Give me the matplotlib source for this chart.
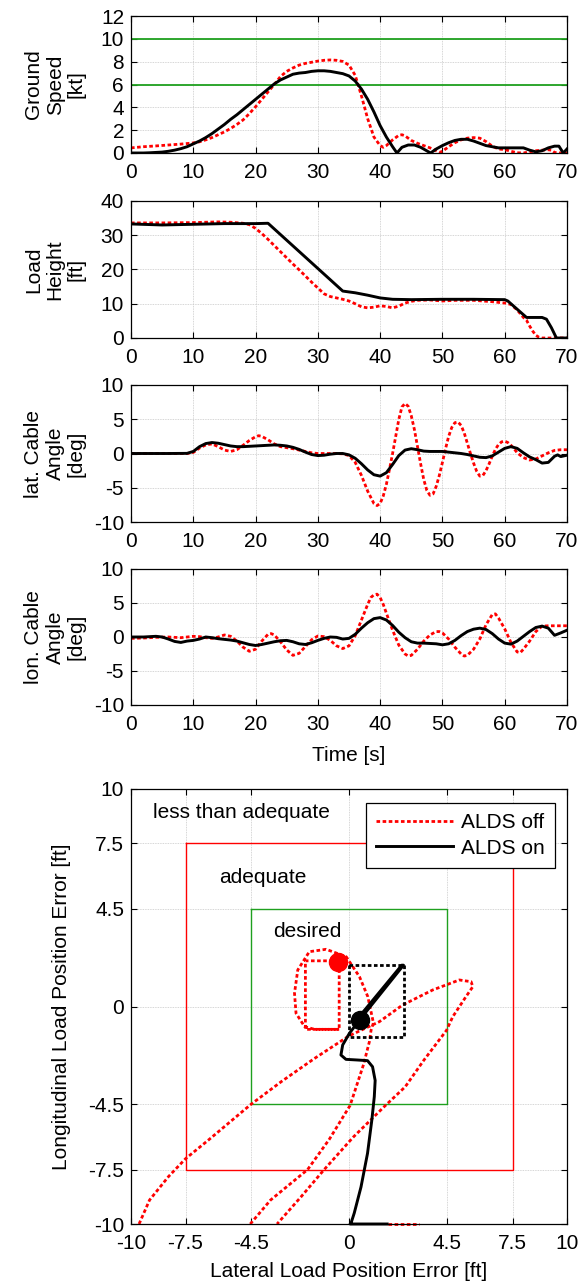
import matplotlib
matplotlib.use("Agg")
import matplotlib.pyplot as plt
import numpy as np

plt.rcParams['font.family'] = ['Liberation Sans', 'DejaVu Sans']
plt.rcParams['axes.unicode_minus'] = False

# ---------------- time histories ----------------
# Ground speed [kt]
gs_on_t = [0, 1, 2, 3, 4, 5, 6, 7, 8, 9, 10, 11, 12, 13, 14, 15, 16, 17, 18, 19, 20,
           21, 22, 23, 24, 25, 26, 27, 28, 29, 30, 31, 32, 33, 34, 35, 36, 37, 38, 39,
           40, 41, 42, 42.7, 43.5, 44.5, 45.5, 46.5, 47.3, 48.1, 49, 50, 51, 52, 53,
           54, 55, 56, 57, 58, 59, 60, 61, 62, 63, 64, 65, 66, 67, 68, 68.7, 69.4, 70]
gs_on = [0, 0, 0, 0.02, 0.05, 0.08, 0.15, 0.25, 0.38, 0.55, 0.8, 1.05, 1.35, 1.7, 2.1,
         2.5, 2.95, 3.35, 3.8, 4.25, 4.7, 5.15, 5.6, 6.05, 6.4, 6.65, 6.9, 7.0, 7.05,
         7.15, 7.2, 7.2, 7.15, 7.05, 6.95, 6.75, 6.3, 5.6, 4.7, 3.6, 2.4, 1.4, 0.55, 0.0,
         0.5, 0.7, 0.7, 0.5, 0.25, 0.0, 0.35, 0.65, 0.9, 1.1, 1.2, 1.2, 1.05, 0.85,
         0.65, 0.55, 0.45, 0.45, 0.45, 0.45, 0.45, 0.25, 0.1, 0.2, 0.45, 0.6, 0.6, 0.0, 0.35]
gs_off_t = [0, 2, 4, 6, 8, 10, 11, 12, 13, 14, 15, 16, 17, 18, 19, 20, 21, 22, 23, 24,
            25, 26, 27, 28, 29, 30, 31, 32, 33, 34, 35, 36, 37, 38, 39, 40, 40.5, 41,
            42, 43, 43.5, 44, 45, 46, 47, 48, 49, 49.5, 50, 51, 52, 53, 54, 55, 56, 57,
            58, 59, 60, 61, 62, 63, 64, 65, 66, 67, 67.5, 68, 69, 70]
gs_off = [0.45, 0.55, 0.62, 0.7, 0.78, 0.88, 0.98, 1.15, 1.35, 1.6, 1.85, 2.15, 2.5,
          2.9, 3.45, 4.05, 4.7, 5.35, 6.0, 6.7, 7.15, 7.45, 7.7, 7.85, 7.95, 8.05, 8.12,
          8.15, 8.12, 8.02, 7.7, 6.8, 5.0, 3.0, 1.4, 0.65, 0.5, 0.65, 1.15, 1.55, 1.6,
          1.5, 1.1, 0.85, 0.65, 0.45, 0.2, 0.05, 0.15, 0.55, 0.9, 1.15, 1.3, 1.35, 1.3,
          1.0, 0.6, 0.35, 0.3, 0.15, 0.02, 0.0, 0.1, 0.2, 0.25, 0.28, 0.25, 0.05, 0.0, 0.0]
gs_bounds = [6, 10]

# Load height [ft]
lh_on_t = [0, 5, 10, 15, 20, 22, 34, 36, 38, 40, 42, 45, 50, 55, 60, 60.5, 63.5, 66,
           66.7, 67.5, 68.3, 70]
lh_on = [33.3, 33.0, 33.2, 33.4, 33.4, 33.5, 13.7, 13.2, 12.5, 11.7, 11.3, 11.2, 11.3,
         11.3, 11.2, 10.8, 6.0, 6.0, 5.5, 3.0, 0.0, 0.0]
lh_off_t = [0, 5, 10, 14, 16, 18, 19, 20, 21, 22, 23, 24, 25, 26, 27, 28, 29, 30, 31,
            32, 33, 34, 35, 36, 37, 38, 39, 40, 41, 42, 43, 44, 45, 46, 48, 50, 52, 55,
            58, 60, 61, 62, 63, 63.5, 64, 64.5, 65, 65.5, 66, 70]
lh_off = [33.6, 33.6, 33.7, 33.9, 33.8, 33.5, 33.1, 32.0, 30.5, 28.8, 27.0, 25.2, 23.4,
          21.6, 19.9, 18.1, 16.3, 14.6, 12.9, 12.1, 11.7, 11.3, 10.8, 10.0, 9.1, 8.8,
          9.0, 9.4, 9.2, 8.8, 9.3, 10.2, 10.7, 11.0, 11.1, 10.8, 11.0, 11.0, 10.6, 10.2,
          9.8, 8.2, 6.0, 5.2, 3.5, 2.0, 0.8, 0.2, 0.0, 0.0]

# Lateral cable angle [deg]
lat_on_t = [0, 3, 6, 9, 10, 11, 12, 13, 14, 15, 16, 17, 18, 19, 20, 21, 22, 23, 24, 25,
            26, 27, 28, 29, 30, 31, 32, 33, 34, 35, 36, 37, 38, 39, 40, 41, 42, 43, 44,
            45, 46, 47, 48, 49, 50, 51, 52, 53, 54, 55, 56, 57, 58, 59, 60, 61, 62, 63,
            64, 65, 66, 67, 68, 68.5, 69, 70]
lat_on = [0, 0, 0, 0.02, 0.3, 1.0, 1.45, 1.6, 1.5, 1.3, 1.1, 1.0, 1.0, 1.05, 1.1, 1.15,
          1.2, 1.25, 1.2, 1.1, 0.9, 0.6, 0.2, -0.15, -0.3, -0.25, -0.1, 0.0, 0.0, -0.2,
          -0.7, -1.5, -2.4, -3.1, -3.3, -2.8, -1.6, -0.3, 0.5, 0.7, 0.55, 0.35, 0.3, 0.3,
          0.3, 0.2, 0.1, 0.0, -0.15, -0.35, -0.55, -0.6, -0.35, 0.2, 0.75, 1.0, 0.75,
          0.1, -0.5, -0.9, -1.4, -1.3, -0.4, -0.2, -0.45, -0.25]
lat_off_t = [0, 3, 6, 9, 10, 11, 12, 13, 14, 15, 16, 17, 18, 19, 20, 20.5, 21, 22, 23,
             24, 25, 26, 27, 28, 29, 30, 31, 32, 33, 34, 35, 36, 37, 38, 39, 39.5, 40,
             40.5, 41, 41.5, 42, 42.5, 43, 43.5, 44, 44.5, 45, 45.5, 46, 46.5, 47, 47.5,
             48, 48.5, 49, 49.5, 50, 50.5, 51, 51.5, 52, 52.5, 53, 53.5, 54, 54.5, 55,
             55.5, 56, 56.5, 57, 57.5, 58, 58.5, 59, 59.5, 60, 60.5, 61, 61.5, 62, 63,
             64, 65, 66, 67, 68, 69, 70]
lat_off = [0, 0, 0, 0.0, 0.15, 0.8, 1.25, 1.4, 1.0, 0.5, 0.3, 0.55, 1.2, 1.9, 2.45, 2.6,
           2.5, 2.0, 1.4, 1.0, 0.85, 0.7, 0.5, 0.3, 0.1, 0.0, 0.0, 0.0, 0.0, -0.05, -0.3,
           -1.3, -3.2, -5.5, -7.3, -7.6, -7.3, -6.2, -4.5, -2.3, 0.0, 2.5, 5.0, 6.8, 7.3,
           6.9, 5.5, 3.5, 1.0, -1.5, -3.8, -5.4, -6.1, -5.9, -4.8, -3.2, -1.3, 0.7, 2.5,
           3.8, 4.5, 4.6, 4.1, 3.0, 1.5, 0.0, -1.4, -2.6, -3.3, -3.2, -2.5, -1.5, -0.4,
           0.6, 1.3, 1.7, 1.8, 1.6, 1.2, 0.7, 0.1, -0.6, -0.95, -0.8, -0.35, 0.1, 0.45,
           0.55, 0.55]

# Longitudinal cable angle [deg]
lon_on_t = list(range(0, 71))
lon_on = [0.0, 0.0, 0.0, 0.05, 0.1, 0.0, -0.3, -0.65, -0.8, -0.6, -0.5, -0.3, 0.0, -0.1,
          -0.25, -0.35, -0.45, -0.6, -0.85, -1.1, -1.25, -1.1, -0.9, -0.7, -0.55, -0.5,
          -0.7, -1.0, -1.1, -0.85, -0.5, -0.2, 0.0, -0.05, -0.3, -0.2, 0.4, 1.3, 2.1,
          2.7, 2.85, 2.5, 1.7, 0.7, -0.1, -0.7, -0.9, -0.9, -0.95, -1.0, -1.15, -1.0,
          -0.5, 0.2, 0.8, 1.15, 1.3, 1.1, 0.5, -0.3, -0.9, -1.05, -0.6, 0.1, 0.8, 1.4,
          1.6, 1.3, 0.25, 0.6, 1.0]
lon_off_t = [0, 2, 4, 6, 7, 8, 9, 10, 11, 12, 13, 14, 15, 16, 17, 18, 19, 20, 21, 22,
             22.5, 23, 24, 25, 26, 27, 28, 29, 30, 31, 32, 33, 34, 35, 36, 37, 38, 38.5,
             39, 39.5, 40, 40.5, 41, 42, 43, 44, 44.5, 45, 46, 47, 48, 49, 49.5, 50, 51,
             52, 53, 53.5, 54, 55, 56, 57, 58, 58.5, 59, 60, 61, 62, 62.5, 63, 64, 65,
             66, 67, 70]
lon_off = [-0.2, -0.15, -0.05, 0.0, -0.05, -0.1, 0.0, 0.1, 0.05, -0.1, -0.2, 0.0, 0.3,
           0.1, -0.6, -1.5, -2.1, -1.8, -0.6, 0.4, 0.5, 0.3, -0.7, -1.9, -2.7, -2.4,
           -1.4, -0.4, 0.15, 0.05, -0.5, -1.3, -1.7, -1.3, 0.2, 2.5, 4.8, 5.8, 6.2, 6.3,
           5.8, 4.8, 3.5, 1.0, -1.2, -2.5, -2.8, -2.7, -1.8, -0.6, 0.3, 0.8, 0.8, 0.6,
           -0.3, -1.5, -2.5, -2.8, -2.7, -1.8, -0.3, 1.8, 3.3, 3.4, 2.8, 1.2, -0.8, -2.2,
           -2.3, -1.8, -0.6, 0.8, 1.6, 1.65, 1.65]

# ---------------- load position error [ft] ----------------
off_x = [-9.63, -9.15, -8.28, -7.5, -6.4, -4.5, -3.1, -1.6, 0.0, 1.39, 2.46, 3.84, 5.06,
         5.6, 5.68, 5.37, 4.76, 4.47, 3.44, 2.58, 1.62, 0.2, -1.14, -2.2, -3.3]
off_y = [-10.0, -8.9, -7.82, -7.0, -6.1, -4.5, -3.45, -2.4, -1.35, -0.7, 0.07, 0.76,
         1.22, 1.14, 0.91, 0.46, -0.47, -1.1, -2.46, -3.69, -4.6, -6.0, -7.5, -8.75, -10.0]
off2_x = [-4.53, -3.6, -1.9, -0.9, 0.05, 0.67, 0.94, 1.01, 1.12, 0.86, 0.48, -0.13, -1.05,
          -1.82, -2.35, -2.5, -2.43, -2.04, -1.59, -0.45, -0.45, -2.0, -2.0, -0.45]
off2_y = [-10.0, -8.9, -7.5, -6.1, -4.55, -2.66, -1.6, -1.1, -0.75, 0.46, 1.37, 2.29,
          2.63, 2.52, 1.68, 0.61, -0.31, -0.92, -1.05, -1.05, 2.1, 2.1, -1.05, -1.05]
off_edge_x = [1.8, 3.2]
off_edge_y = [-10.0, -10.0]
off_end = (-0.5, 2.05)

on_x = [1.75, 0.05, 0.09, 0.24, 0.55, 0.85, 1.05, 1.16, 1.2, 1.08, 0.85, 0.39, -0.14,
        -0.37, -0.29, 0.02, 0.5, 2.5, 2.42, 0.4]
on_y = [-10.0, -10.0, -9.97, -9.5, -8.3, -6.75, -5.2, -4.15, -3.4, -2.77, -2.49, -2.46,
        -2.43, -2.23, -1.77, -1.23, -0.6, 1.9, 1.9, -0.55]
on_box_x = [0.0, 2.5, 2.5, 0.0, 0.0]
on_box_y = [1.9, 1.9, -1.4, -1.4, 1.9]
on_end = (0.5, -0.6)

desired_lim = 4.5
adequate_lim = 7.5
pos_ticks = [-10, -7.5, -4.5, 0, 4.5, 7.5, 10]
pos_ticklabels = ['-10', '-7.5', '-4.5', '0', '4.5', '7.5', '10']

# ---------------- styling ----------------
RED = '#ff0000'
GREEN = '#1fa01f'
DOT = (0, (1.3, 0.9))
FS = 15

fig = plt.figure(figsize=(5.87, 12.83), dpi=100)

left, width = 131 / 587, 436 / 587
H = 1283.0


def frame(ax):
    ax.tick_params(direction='in', length=4, width=0.8, top=True, right=True,
                   labelsize=FS)
    ax.tick_params(axis='x', pad=7.5)
    ax.tick_params(axis='y', pad=5)
    ax.grid(True, color='#c8c8c8', linestyle=(0, (1, 1)), linewidth=0.6)
    for s in ax.spines.values():
        s.set_linewidth(0.9)
    ax.set_axisbelow(True)


def time_axes(top_px, bot_px, ylim, yticks, ylabel):
    ax = fig.add_axes([left, 1 - bot_px / H, width, (bot_px - top_px) / H])
    frame(ax)
    ax.set_xlim(0, 70)
    ax.set_xticks(range(0, 71, 10))
    ax.set_ylim(*ylim)
    ax.set_yticks(yticks)
    ax.set_ylabel(ylabel, fontsize=FS, ha='center', va='center', multialignment='center',
                  linespacing=1.15)
    ax.yaxis.set_label_coords(-0.174, 0.5)
    return ax


ax1 = time_axes(16, 153, (0, 12), range(0, 13, 2), 'Ground\nSpeed\n[kt]')
for b in gs_bounds:
    ax1.axhline(b, color=GREEN, linewidth=1.3)
ax1.plot(gs_off_t, gs_off, color=RED, linestyle=DOT, linewidth=2.0)
ax1.plot(gs_on_t, gs_on, color='black', linewidth=2.1)

ax2 = time_axes(201, 338, (0, 40), range(0, 41, 10), 'Load\nHeight\n[ft]')
ax2.plot(lh_off_t, lh_off, color=RED, linestyle=DOT, linewidth=2.0)
ax2.plot(lh_on_t, lh_on, color='black', linewidth=2.1)

ax3 = time_axes(385, 522, (-10, 10), range(-10, 11, 5), 'lat. Cable\nAngle\n[deg]')
ax3.plot(lat_off_t, lat_off, color=RED, linestyle=DOT, linewidth=2.0)
ax3.plot(lat_on_t, lat_on, color='black', linewidth=2.1)

ax4 = time_axes(569, 705, (-10, 10), range(-10, 11, 5), 'lon. Cable\nAngle\n[deg]')
ax4.plot(lon_off_t, lon_off, color=RED, linestyle=DOT, linewidth=2.0)
ax4.plot(lon_on_t, lon_on, color='black', linewidth=2.1)
ax4.set_xlabel('Time [s]', fontsize=FS, va='center')
ax4.xaxis.set_label_coords(0.5, -0.37)

# ---------------- position error map ----------------
ax5 = fig.add_axes([left, 1 - 1224 / H, width, (1224 - 789) / H])
frame(ax5)
ax5.set_xlim(-10, 10)
ax5.set_ylim(-10, 10)
ax5.set_xticks(pos_ticks)
ax5.set_xticklabels(pos_ticklabels)
ax5.set_yticks(pos_ticks)
ax5.set_yticklabels(pos_ticklabels)

for lim, col in ((adequate_lim, RED), (desired_lim, GREEN)):
    ax5.plot([-lim, lim, lim, -lim, -lim], [lim, lim, -lim, -lim, lim],
             color=col, linewidth=1.0)

ax5.plot(off_x, off_y, color=RED, linestyle=DOT, linewidth=2.0, label='ALDS off')
ax5.plot(off2_x, off2_y, color=RED, linestyle=DOT, linewidth=2.0)
ax5.plot(off_edge_x, off_edge_y, color=RED, linestyle=DOT, linewidth=2.0, clip_on=False)
ax5.plot(on_box_x, on_box_y, color='black', linestyle=DOT, linewidth=2.0)
ax5.plot(on_x, on_y, color='black', linewidth=2.1, label='ALDS on', clip_on=False)
ax5.plot(*off_end, 'o', color=RED, markersize=13, zorder=5)
ax5.plot(*on_end, 'o', color='black', markersize=13, zorder=5)

ax5.text(-9.0, 8.9, 'less than adequate', fontsize=FS, ha='left', va='center')
ax5.text(-5.95, 5.95, 'adequate', fontsize=FS, ha='left', va='center')
ax5.text(-3.5, 3.45, 'desired', fontsize=FS, ha='left', va='center')

leg = ax5.legend(loc='upper right', bbox_to_anchor=(0.972, 0.968), borderaxespad=0,
                 fontsize=FS, fancybox=False, framealpha=1, edgecolor='black',
                 handlelength=3.7, handletextpad=0.35, borderpad=0.5, labelspacing=0.3)
leg.get_frame().set_linewidth(0.9)

ax5.set_xlabel('Lateral Load Position Error [ft]', fontsize=FS, va='center')
ax5.xaxis.set_label_coords(0.5, -0.11)
ax5.set_ylabel('Longitudinal Load Position Error [ft]', fontsize=FS, va='center')
ax5.yaxis.set_label_coords(-0.16, 0.5)

fig.savefig('out.png', dpi=100)
